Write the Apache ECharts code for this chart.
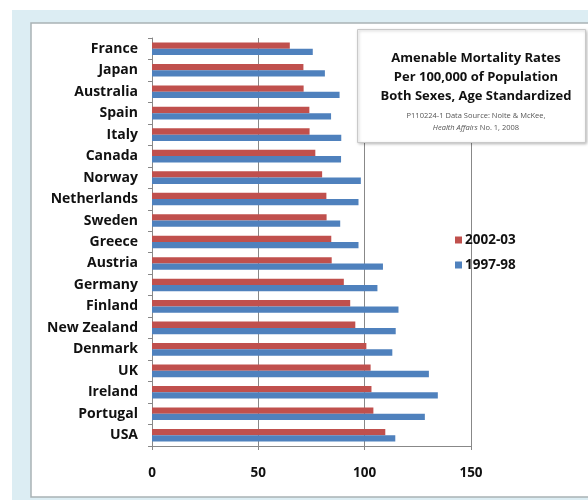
<!DOCTYPE html>
<html>
<head>
<meta charset="utf-8">
<script src="https://cdn.jsdelivr.net/npm/echarts@6/dist/echarts.min.js"></script>
<style>
  html, body { margin: 0; padding: 0; background: #fff; }
  #chart { width: 588px; height: 500px; }
</style>
</head>
<body>
<div id="chart"></div>
<script>
const countries = ['France', 'Japan', 'Australia', 'Spain', 'Italy', 'Canada', 'Norway', 'Netherlands',
  'Sweden', 'Greece', 'Austria', 'Germany', 'Finland', 'New Zealand', 'Denmark', 'UK', 'Ireland',
  'Portugal', 'USA']
const rates0203 = [64.8, 71.2, 71.3, 74.0, 74.1, 76.8, 80.0, 82.0, 82.1, 84.3, 84.5, 90.2, 93.2, 95.6,
  100.8, 102.8, 103.2, 104.1, 109.7]
const rates9798 = [75.6, 81.3, 88.2, 84.2, 89.0, 88.9, 98.2, 97.1, 88.5, 97.1, 108.6, 106.0, 115.9, 114.6,
  113.0, 130.2, 134.4, 128.3, 114.4]
const xTicks = [0, 50, 100, 150]

const fontFam = '"Open Sans", "Liberation Sans", sans-serif'
const chart = echarts.init(document.getElementById('chart'))

const option = {
  animation: false,
  textStyle: {fontFamily: fontFam},
  // frame: light blue band + white panel
  graphic: [
    {type: 'rect', z: -10, shape: {x: 12, y: 10, width: 576, height: 490}, style: {fill: '#dcedf3'}},
    {type: 'rect', z: -9, shape: {x: 31, y: 23, width: 560, height: 474},
      style: {fill: '#ffffff', stroke: '#a9b2b5', lineWidth: 1.5}},
    {type: 'rect', z: 10, shape: {x: 357.5, y: 29.5, width: 228, height: 113},
      style: {fill: '#ffffff', stroke: '#c9c9c9', lineWidth: 1, shadowBlur: 3, shadowColor: 'rgba(0,0,0,0.25)', shadowOffsetX: 1, shadowOffsetY: 1}}
  ],
  title: {
    left: 471, top: 44, textAlign: 'center', z: 12, itemGap: 4,
    text: 'Amenable Mortality Rates\nPer 100,000 of Population\nBoth Sexes, Age Standardized',
    textStyle: {fontSize: 13, fontWeight: 'bold', color: '#111', lineHeight: 19, fontFamily: fontFam},
    subtext: 'P110224-1 Data Source: Nolte & McKee,\n{i|Health Affairs} No. 1, 2008',
    subtextStyle: {fontSize: 7.5, color: '#555', lineHeight: 12, fontFamily: fontFam,
      rich: {i: {fontStyle: 'italic', fontSize: 7.5, color: '#555', fontFamily: fontFam}}}
  },
  legend: {
    orient: 'vertical', left: 450, top: 228, itemGap: 11,
    itemWidth: 7, itemHeight: 7, icon: 'rect',
    textStyle: {fontSize: 13.5, fontWeight: 'bold', color: '#111', fontFamily: fontFam, padding: [0, 0, 0, -2]},
    data: ['2002-03', '1997-98']
  },
  grid: {left: 152, right: 117, top: 38, bottom: 54, containLabel: false},
  xAxis: {
    type: 'value', min: 0, max: 150, interval: 50,
    axisLine: {show: true, lineStyle: {color: '#888', width: 1}},
    axisTick: {show: true, length: 4, lineStyle: {color: '#888'}},
    splitLine: {show: true, lineStyle: {color: '#888', width: 1}},
    axisLabel: {margin: 20, fontSize: 13.5, fontWeight: 'bold', color: '#111',
      formatter: v => xTicks.includes(v) ? String(v) : ''}
  },
  yAxis: {
    type: 'category', inverse: true, data: countries,
    axisLine: {show: true, lineStyle: {color: '#888', width: 1}},
    axisTick: {show: true, length: 4, lineStyle: {color: '#888'}},
    axisLabel: {margin: 14, fontSize: 14, fontWeight: 'bold', color: '#111'}
  },
  series: [
    {name: '2002-03', type: 'bar', data: rates0203, barWidth: 6.3, barGap: '0%',
      itemStyle: {color: '#c0504d'}},
    {name: '1997-98', type: 'bar', data: rates9798, barWidth: 6.3, barGap: '0%',
      itemStyle: {color: '#4f81bd'}}
  ]
}

chart.setOption(option)
</script>
</body>
</html>
